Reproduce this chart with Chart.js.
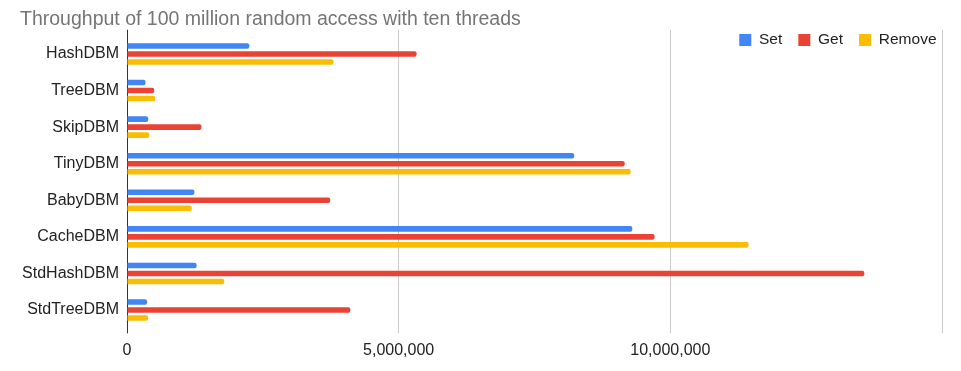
<!DOCTYPE html>
<html>
<head>
<meta charset="utf-8">
<script src="https://cdn.jsdelivr.net/npm/chart.js@4"></script>
<style>
  html, body { margin: 0; padding: 0; background: #fff; }
  #wrap { width: 961px; height: 371px; }
</style>
</head>
<body>
<div id="wrap"><canvas id="myChart" width="961" height="371"></canvas></div>
<script>
const categories = ['HashDBM', 'TreeDBM', 'SkipDBM', 'TinyDBM', 'BabyDBM', 'CacheDBM', 'StdHashDBM', 'StdTreeDBM'];
const setValues = [2250000, 340000, 390000, 8230000, 1240000, 9300000, 1280000, 370000];
const getValues = [5330000, 500000, 1370000, 9160000, 3740000, 9710000, 13570000, 4110000];
const removeValues = [3800000, 520000, 410000, 9270000, 1190000, 11440000, 1790000, 390000];
const xTicks = [0, 5000000, 10000000, 15000000];

(() => {
    const ctx = document.getElementById('myChart').getContext('2d');
    const xMax = xTicks[xTicks.length - 1];
    const gridColor = (c) => (c.tick && c.tick.value === 0) ? '#333333' : '#cccccc';

    // legend sits inside the plot, top right, like the sheet export
    const legendInside = {
        id: 'legendInside',
        afterLayout(chart) {
            const lg = chart.legend;
            lg.left = 0;
            lg.right = 952.5;
            lg.top = 16.25;
            lg.bottom = 60;
        }
    };

    const dataSet = {
        labels: categories,
        datasets: [
            { label: 'Set', data: setValues, backgroundColor: '#4285F4' },
            { label: 'Get', data: getValues, backgroundColor: '#EA4335' },
            { label: 'Remove', data: removeValues, backgroundColor: '#FBBC04' }
        ]
    };

    const config = {
        type: 'bar',
        data: dataSet,
        options: {
            indexAxis: 'y',
            responsive: false,
            animation: false,
            categoryPercentage: 0.656,
            barPercentage: 0.7,
            borderRadius: 2,
            borderSkipped: 'start',
            layout: { padding: { left: 20, right: 19, top: 0, bottom: 2.5 } },
            scales: {
                x: {
                    min: 0,
                    max: xMax,
                    afterBuildTicks: (scale) => { scale.ticks = xTicks.map(v => ({ value: v })); },
                    grid: { color: gridColor, drawTicks: true, tickLength: 5 },
                    border: { display: false },
                    ticks: {
                        color: '#222222',
                        font: { family: 'Liberation Sans, Arial, sans-serif', size: 16 },
                        padding: 8,
                        maxRotation: 0,
                        callback: (v) => v >= xMax ? '' : Number(v).toLocaleString('en-US')
                    }
                },
                xTop: {
                    type: 'linear',
                    position: 'top',
                    min: 0,
                    max: xMax,
                    afterBuildTicks: (scale) => { scale.ticks = xTicks.map(v => ({ value: v })); },
                    grid: { color: gridColor, drawOnChartArea: false, drawTicks: true, tickLength: 6 },
                    border: { display: false },
                    ticks: { display: false }
                },
                y: {
                    grid: { display: false, drawTicks: false },
                    border: { display: true, color: '#333333', width: 1 },
                    afterFit: (scale) => { scale.width = 107; },
                    ticks: {
                        color: '#222222',
                        font: { family: 'Liberation Sans, Arial, sans-serif', size: 16 },
                        padding: 8
                    }
                }
            },
            plugins: {
                title: {
                    display: true,
                    text: 'Throughput of 100 million random access with ten threads',
                    align: 'start',
                    color: '#757575',
                    font: { family: 'Liberation Sans, Arial, sans-serif', size: 19.5, weight: 'normal' },
                    padding: { top: 7.9, bottom: -2.6 }
                },
                legend: {
                    display: true,
                    position: 'top',
                    align: 'end',
                    maxHeight: 1,
                    labels: {
                        color: '#222222',
                        font: { family: 'Liberation Sans, Arial, sans-serif', size: 15.5 },
                        boxWidth: 12,
                        boxHeight: 12,
                        padding: 16
                    }
                },
                tooltip: { enabled: false }
            }
        },
        plugins: [legendInside]
    };

    const myChart = new Chart(ctx, config);
})()
</script>
</body>
</html>
